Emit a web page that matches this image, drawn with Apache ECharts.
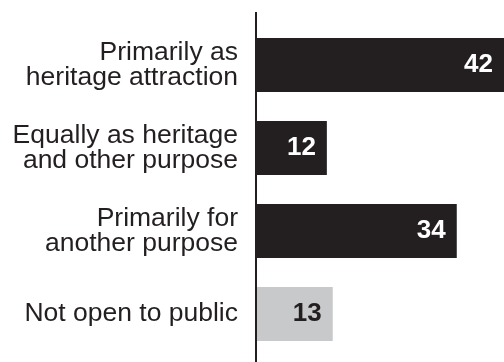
<!DOCTYPE html>
<html>
<head>
<meta charset="utf-8">
<script src="https://cdn.jsdelivr.net/npm/echarts@6/dist/echarts.min.js"></script>
<style>
  html, body { margin: 0; padding: 0; background: #ffffff; }
  #chart { width: 504px; height: 362px; }
</style>
</head>
<body>
<div id="chart"></div>
<script>
// Category labels (top to bottom)
const categories = [
  'Primarily as\nheritage attraction',
  'Equally as heritage\nand other purpose',
  'Primarily for\nanother purpose',
  'Not open to public'
];
// Share of buildings per use
const values = [42, 12, 34, 13];
// Bar fill and label colour per category
const barColors = ['#231f20', '#231f20', '#231f20', '#c8c9cb'];
const labelColors = ['#ffffff', '#ffffff', '#ffffff', '#231f20'];

const FONT = '"Liberation Sans", Arial, Helvetica, sans-serif';
const INK = '#231f20';

const chart = echarts.init(document.getElementById('chart'), null, { renderer: 'canvas' });

const seriesData = values.map((v, i) => ({
  value: v,
  itemStyle: { color: barColors[i] },
  label: { color: labelColors[i] }
}));

chart.setOption({
  animation: false,
  backgroundColor: '#ffffff',
  grid: { left: 256, right: -4, top: 23.5, bottom: 6.5, containLabel: false },
  xAxis: {
    type: 'value',
    min: 0,
    max: 42,
    show: false
  },
  yAxis: {
    type: 'category',
    data: categories,
    inverse: true,
    axisLine: { show: false },
    axisTick: { show: false },
    axisLabel: {
      margin: 18,
      fontFamily: FONT,
      fontSize: 26.5,
      lineHeight: 25,
      color: INK,
      align: 'right'
    }
  },
  series: [{
    type: 'bar',
    data: seriesData,
    barWidth: 54,
    label: {
      show: true,
      position: 'insideRight',
      distance: 11,
      fontFamily: FONT,
      fontSize: 26,
      fontWeight: 'bold'
    }
  }],
  graphic: [{
    type: 'line',
    z: 100,
    shape: { x1: 256, y1: 12, x2: 256, y2: 362 },
    style: { stroke: INK, lineWidth: 2 }
  }]
});
</script>
</body>
</html>
